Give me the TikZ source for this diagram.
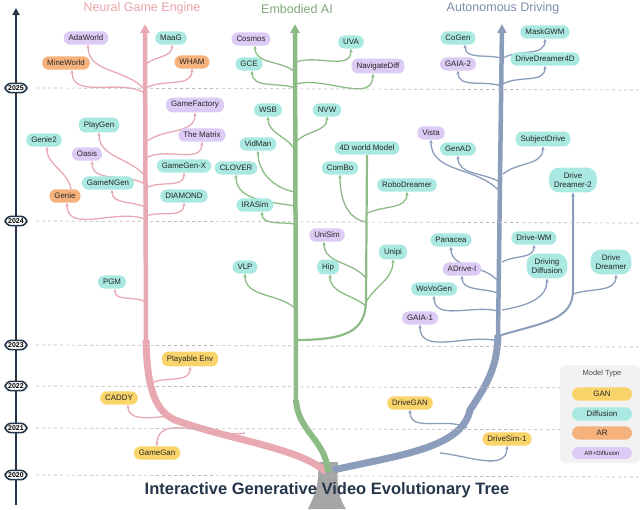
\documentclass[tikz,border=0pt]{standalone}
\usepackage{fontspec}
\setmainfont{Liberation Sans}
\usetikzlibrary{arrows.meta}
\pgfdeclarelayer{background}
\pgfsetlayers{background,main}
\definecolor{pinkc}{HTML}{E8A9B2}
\definecolor{greenc}{HTML}{8CBB86}
\definecolor{bluec}{HTML}{8B9DBB}
\definecolor{tealf}{HTML}{A9E9E1}
\definecolor{purf}{HTML}{DCCBF4}
\definecolor{oraf}{HTML}{F5B27C}
\definecolor{yelf}{HTML}{F9D46A}
\definecolor{axisc}{HTML}{26364A}
\tikzset{
  mnode/.style={rounded corners=6.5pt,inner xsep=5pt,inner ysep=3.8pt,font=\fontsize{7.9}{9}\selectfont,text=black!85},
  dif/.style={mnode,fill=tealf},
  arf/.style={mnode,fill=purf},
  arn/.style={mnode,fill=oraf},
  gan/.style={mnode,fill=yelf},
  two/.style={align=center,rounded corners=10pt,inner ysep=5pt},
  yr/.style={draw=axisc,line width=1.6pt,fill=white,rounded corners=6pt,inner xsep=3pt,inner ysep=2.2pt,font=\fontsize{7}{8}\selectfont\bfseries},
  brp/.style={pinkc,line width=1.3pt,-{Stealth[length=3.5pt,width=3.5pt]}},
  brg/.style={greenc,line width=1.3pt,-{Stealth[length=3.5pt,width=3.5pt]}},
  brb/.style={bluec,line width=1.3pt,-{Stealth[length=3.5pt,width=3.5pt]}},
  ttl/.style={font=\fontsize{12.5}{14}\selectfont},
}
\begin{document}
\begin{tikzpicture}[x=1pt,y=-1pt]
\useasboundingbox (0,0) rectangle (640,509);
% year axis
\draw[axisc,line width=2pt,-{Triangle[length=7pt,width=7pt]}] (16,505) -- (16,8);
\foreach \y/\t in {88/2025,221/2024,345/2023,386/2022,428/2021,475/2020}{
  \draw[gray!55,dashed,line width=0.7pt] (36,\y) -- (640,\y+2);
  \node[yr] at (16,\y) {\t};
}
% titles
\node[ttl,text=pinkc!95!red] (t1) at (142,8) {Neural Game Engine};
\node[ttl,text=greenc!90!black] (t2) at (297,9) {Embodied AI};
\node[ttl,text=bluec!90!black] (t3) at (503,8) {Autonomous Driving};
% pink nodes
\node[arf] (adaworld) at (86,38) {AdaWorld};
\node[dif] (maag) at (171,38) {MaaG};
\node[arn] (mineworld) at (66,63) {MineWorld};
\node[arn] (wham) at (192,62) {WHAM};
\node[arf] (gamefactory) at (195,105) {GameFactory};
\node[dif] (playgen) at (99,125) {PlayGen};
\node[dif] (genie2) at (44,140) {Genie2};
\node[arf] (matrix) at (202,135) {The Matrix};
\node[arf] (oasis) at (87,154) {Oasis};
\node[dif] (gamegenx) at (184,166) {GameGen-X};
\node[dif] (gamengen) at (108,183) {GameNGen};
\node[arn] (genie) at (65,196) {Genie};
\node[dif] (diamond) at (184,196) {DIAMOND};
\node[dif] (pgm) at (112,282) {PGM};
\node[gan] (playable) at (190,359) {Playable Env};
\node[gan] (caddy) at (119,398) {CADDY};
\node[gan] (gamegan) at (157,453) {GameGan};
% green nodes
\node[arf] (cosmos) at (251,39) {Cosmos};
\node[dif] (uva) at (351,42) {UVA};
\node[dif] (gce) at (249,64) {GCE};
\node[arf] (navdiff) at (378,66) {NavigateDiff};
\node[dif] (wsb) at (268,110) {WSB};
\node[dif] (nvw) at (327,110) {NVW};
\node[dif] (vidman) at (258,144) {VidMan};
\node[dif] (fourd) at (367,148) {4D world Model};
\node[dif] (clover) at (236,168) {CLOVER};
\node[dif] (combo) at (340,168) {ComBo};
\node[dif] (robo) at (407,185) {RoboDreamer};
\node[dif] (irasim) at (255,205) {IRASim};
\node[arf] (unisim) at (327,235) {UniSim};
\node[dif] (unipi) at (393,252) {Unipi};
\node[dif] (vlp) at (245,267) {VLP};
\node[dif] (hip) at (328,267) {Hip};
% blue nodes
\node[dif] (cogen) at (458,38) {CoGen};
\node[dif] (maskgwm) at (545,32) {MaskGWM};
\node[arf] (gaia2) at (458,64) {GAIA-2};
\node[dif] (dd4d) at (545,59) {DriveDreamer4D};
\node[arf] (vista) at (431,133) {Vista};
\node[dif] (genad) at (458,149) {GenAD};
\node[dif] (subject) at (543,139) {SubjectDrive};
\node[dif,two] (dd2) at (573,180) {Drive\\Dreamer-2};
\node[dif] (panacea) at (451,240) {Panacea};
\node[dif] (drivewm) at (534,238) {Drive-WM};
\node[arf] (adrive) at (462,269) {ADrive-I};
\node[dif,two] (drivdiff) at (547,266) {Driving\\Diffusion};
\node[dif,two] (dd) at (611,262) {Drive\\Dreamer};
\node[dif] (wovogen) at (434,289) {WoVoGen};
\node[arf] (gaia1) at (420,318) {GAIA-1};
\node[gan] (drivegan) at (410,403) {DriveGAN};
\node[gan] (drivesim) at (507,439) {DriveSim-1};
\begin{pgfonlayer}{background}
% root
\fill[gray!70] (318,462) .. controls (320,488) and (312,500) .. (308,509) -- (346,509) .. controls (340,500) and (336,488) .. (338,462) -- cycle;
% trunks
\draw[pinkc,line width=7pt] (326,472) .. controls (300,448) and (230,440) .. (175,420) .. controls (152,410) and (147,380) .. (146,340);
\draw[pinkc,line width=4.5pt,-{Triangle[length=9pt,width=9pt]}] (146,342) -- (145,24);
\draw[greenc,line width=6pt] (328,472) .. controls (326,440) and (298,432) .. (296,400);
\draw[greenc,line width=4.5pt,-{Triangle[length=9pt,width=9pt]}] (296,402) -- (295,24);
\draw[bluec,line width=7pt] (333,470) .. controls (400,455) and (462,448) .. (470,410) .. controls (490,380) and (497,365) .. (498,335);
\draw[bluec,line width=4.5pt,-{Triangle[length=9pt,width=9pt]}] (498,337) -- (502,24);
\draw[greenc,line width=2.2pt] (295,340) .. controls (345,340) and (366,332) .. (366,300) -- (fourd.south);
\draw[bluec,line width=2pt,-{Stealth[length=4pt,width=4pt]}] (498,336) .. controls (545,322) and (573,320) .. (573,290) -- (dd2.south);
% pink branches
\draw[brp] (145,90) to[out=130,in=-90] ([xshift=2]adaworld.south);
\draw[brp] (145,93) to[out=150,in=-90] ([xshift=6]mineworld.south);
\draw[brp] (146,64) to[out=40,in=-90] ([xshift=1]maag.south);
\draw[brp] (146,88) to[out=30,in=-90] (wham.south);
\draw[brp] (146,142) to[out=40,in=-90] (gamefactory.south);
\draw[brp] (146,158) to[out=30,in=-90] (matrix.south);
\draw[brp] (146,188) to[out=30,in=-90] (gamegenx.south);
\draw[brp] (146,216) to[out=20,in=-90] (diamond.south);
\draw[brp] (145,176) to[out=130,in=-90] (playgen.south);
\draw[brp] (145,184) to[out=150,in=-90] ([xshift=5]oasis.south);
\draw[brp] (145,207) to[out=155,in=-90] ([xshift=4]gamengen.south);
\draw[brp] (145,219) to[out=160,in=-90] ([xshift=2]genie.south);
\draw[brp] ([xshift=6]genie.north) to[out=100,in=-90] ([xshift=3]genie2.south);
\draw[brp] (146,302) to[out=150,in=-90] ([xshift=3]pgm.south);
\draw[brp] (149,384) to[out=30,in=-90] (playable.south);
\draw[brp] (170,416) to[out=185,in=-90] ([xshift=9]caddy.south);
\draw[brp] (245,433) to[out=190,in=90] (gamegan.north);
% green branches
\draw[brg] (295,72) to[out=140,in=-90] ([xshift=4]cosmos.south);
\draw[brg] (295,88) to[out=160,in=-90] ([xshift=3]gce.south);
\draw[brg] (296,62) to[out=20,in=-90] (uva.south);
\draw[brg] (296,84) to[out=15,in=-90] ([xshift=-5]navdiff.south);
\draw[brg] (295,150) to[out=120,in=-90] (wsb.south);
\draw[brg] (296,142) to[out=50,in=-90] (nvw.south);
\draw[brg] (295,192) to[out=170,in=-90] (vidman.south);
\draw[brg] (295,206) to[out=170,in=-90] (clover.south);
\draw[brg] (295,224) to[out=170,in=-90] ([xshift=7]irasim.south);
\draw[brg] (295,308) to[out=140,in=-90] (vlp.south);
\draw[brg] (366,278) to[out=130,in=-90] ([xshift=-3]unisim.south);
\draw[brg] (366,306) to[out=140,in=-90] ([xshift=2]hip.south);
\draw[brg] (366,302) to[out=60,in=-90] (unipi.south);
\draw[brg] (366,222) to[out=170,in=-90] (combo.south);
\draw[brg] (366,214) to[out=30,in=-90] (robo.south);
% blue branches
\draw[brb] (501,58) to[out=165,in=-90] ([xshift=7]cogen.south);
\draw[brb] (503,58) to[out=30,in=-90] (maskgwm.south);
\draw[brb] (501,86) to[out=160,in=-90] (gaia2.south);
\draw[brb] (503,84) to[out=30,in=-90] (dd4d.south);
\draw[brb] (500,192) to[out=130,in=-90] (vista.south);
\draw[brb] (500,182) to[out=150,in=-90] (genad.south);
\draw[brb] (503,174) to[out=40,in=-90] (subject.south);
\draw[brb] (498,281) to[out=130,in=-90] (panacea.south);
\draw[brb] (502,262) to[out=30,in=-90] (drivewm.south);
\draw[brb] (498,293) to[out=160,in=-90] (adrive.south);
\draw[brb] (498,311) to[out=165,in=-90] (wovogen.south);
\draw[brb] (502,310) to[out=10,in=-90] (drivdiff.south);
\draw[brb] (573,294) to[out=20,in=-90] ([xshift=5]dd.south);
\draw[brb] (498,341) to[out=165,in=-90] (gaia1.south);
\draw[brb] (467,428) to[out=150,in=-90] (drivegan.south);
\draw[brb] (440,453) to[out=-5,in=-90] (drivesim.south);
\end{pgfonlayer}
% legend
\fill[gray!10,rounded corners=6pt] (560,365) rectangle (640,463);
\node[font=\fontsize{7.5}{9}\selectfont,text=black!70] (lt) at (602,374) {Model Type};
\node[gan,minimum width=60pt] (lg) at (602,394) {GAN};
\node[dif,minimum width=60pt] (ld) at (602,414) {Diffusion};
\node[arn,minimum width=60pt] (la) at (602,433) {AR};
\node[arf,minimum width=60pt,font=\fontsize{6}{7}\selectfont] (lad) at (602,453) {AR+Diffusion};
% bottom title
\node[font=\fontsize{16.5}{19}\selectfont\bfseries,text=axisc] (title) at (327,490) {Interactive Generative Video Evolutionary Tree};
\end{tikzpicture}
\end{document}
